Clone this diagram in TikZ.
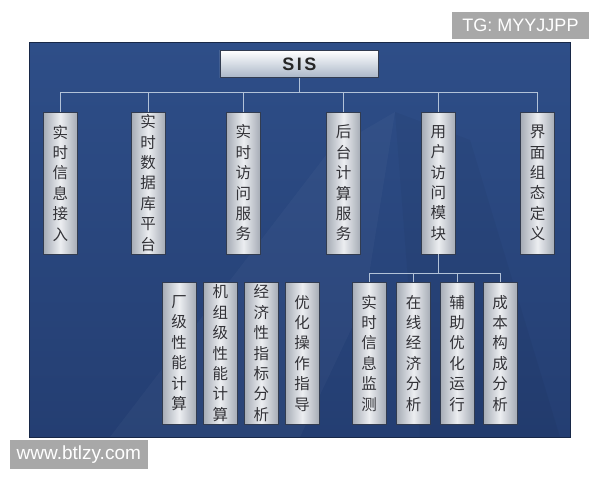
\documentclass[tikz,border=0pt]{standalone}
\usepackage{fontspec}
\setmainfont{Liberation Sans}
\newfontfamily\cjk{Noto Sans CJK SC}
\definecolor{bgtop}{RGB}{46,78,136}
\definecolor{bgbot}{RGB}{36,62,114}
\definecolor{bgdark}{RGB}{24,40,72}
\definecolor{boxedge}{RGB}{165,171,181}
\definecolor{boxmid}{RGB}{236,238,241}
\definecolor{boxline}{RGB}{50,60,80}
\definecolor{conn}{RGB}{178,194,216}
\definecolor{txt}{RGB}{50,50,55}
\definecolor{wmgray}{RGB}{168,168,168}
\definecolor{sisbot}{RGB}{170,183,200}
\begin{document}
\begin{tikzpicture}[x=1pt,y=-1pt,
  vbox/.style={draw=boxline, line width=0.6pt, left color=boxedge, right color=boxedge, middle color=boxmid,
    minimum width=34pt, minimum height=142pt, inner sep=0pt, align=center, text=txt,
    font=\cjk\fontsize{15.5}{20.4}\selectfont},
  sisbox/.style={draw=boxline, line width=0.6pt, top color=white, bottom color=sisbot,
    minimum width=158.7pt, minimum height=26.6pt, inner sep=0pt, text=black!85,
    font=\bfseries\fontsize{18}{18}\selectfont\addfontfeature{LetterSpace=14}},
  link/.style={draw=conn, line width=0.9pt},
  wm/.style={fill=wmgray, text=white, inner sep=0pt}
]
\useasboundingbox (0,0) rectangle (600,480);
\fill[white] (0,0) rectangle (600,480);
% background panel
\shade[top color=bgtop, bottom color=bgbot, draw=bgdark, line width=0.6pt] (29.3,42.7) rectangle (570,437);
\fill[white, opacity=0.03] (110,437) -- (330,150) -- (395,112) -- (365,300) -- (300,437) -- cycle;
\fill[black, opacity=0.035] (395,112) -- (470,140) -- (560,437) -- (420,437) -- cycle;

% top
\node[sisbox] (sis) at (299.3,64) {SIS};

\node[vbox] (t1) at (60.3,183) {实\\时\\信\\息\\接\\入};
\node[vbox] (t2) at (148.2,183) {实\\时\\数\\据\\库\\平\\台};
\node[vbox] (t3) at (243.4,183) {实\\时\\访\\问\\服\\务};
\node[vbox] (t4) at (343.5,183) {后\\台\\计\\算\\服\\务};
\node[vbox] (t5) at (438.4,183) {用\\户\\访\\问\\模\\块};
\node[vbox] (t6) at (537.5,183) {界\\面\\组\\态\\定\\义};

\node[vbox] (b1) at (179.2,353.2) {厂\\级\\性\\能\\计\\算};
\node[vbox] (b2) at (220.3,353.2) {机\\组\\级\\性\\能\\计\\算};
\node[vbox] (b3) at (261.3,353.2) {经\\济\\性\\指\\标\\分\\析};
\node[vbox] (b4) at (302.2,353.2) {优\\化\\操\\作\\指\\导};

\node[vbox] (r1) at (369,353.2) {实\\时\\信\\息\\监\\测};
\node[vbox] (r2) at (413.5,353.2) {在\\线\\经\\济\\分\\析};
\node[vbox] (r3) at (457,353.2) {辅\\助\\优\\化\\运\\行};
\node[vbox] (r4) at (500,353.2) {成\\本\\构\\成\\分\\析};

% connectors
\coordinate (bus) at (0,92.7);
\coordinate (bus2) at (0,273.3);
\draw[link] (sis.south) -- (sis.south |- bus);
\draw[link] (t1.north) -- (t1.north |- bus) -- (t6.north |- bus) -- (t6.north);
\foreach \n in {t2,t3,t4,t5}{\draw[link] (\n.north) -- (\n.north |- bus);}
\draw[link] (t5.south) -- (t5.south |- bus2);
\draw[link] (r1.north) -- (r1.north |- bus2) -- (r4.north |- bus2) -- (r4.north);
\foreach \n in {r2,r3}{\draw[link] (\n.north) -- (\n.north |- bus2);}

% watermarks
\node[wm, minimum width=137.6pt, minimum height=27.3pt, font=\fontsize{18}{18}\selectfont] (tg) at (520.5,25.7) {TG: MYYJJPP};
\node[wm, minimum width=137.7pt, minimum height=29.3pt, font=\fontsize{19}{19}\selectfont] (www) at (78.8,454.7) {www.btlzy.com};
\end{tikzpicture}
\end{document}
